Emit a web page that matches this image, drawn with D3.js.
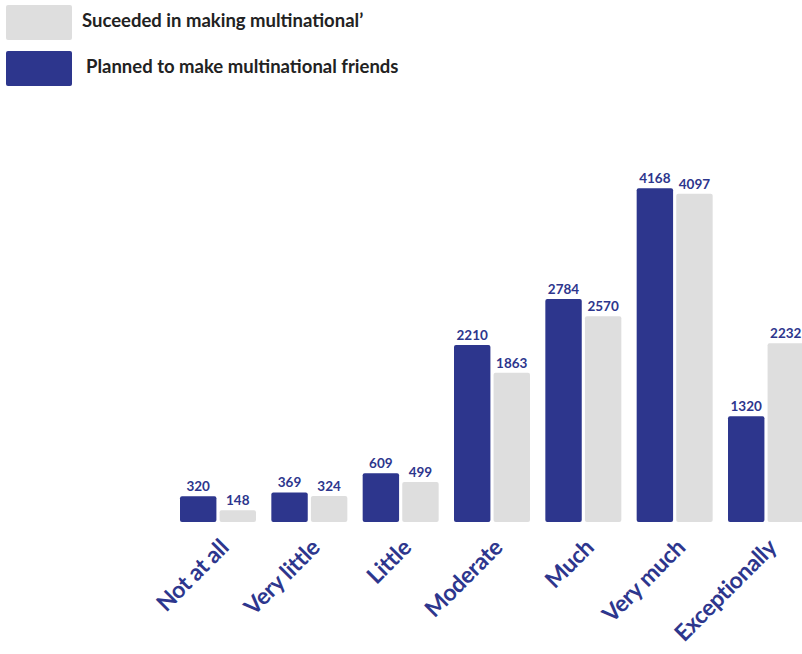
<!DOCTYPE html>
<html>
<head>
<meta charset="utf-8">
<script src="https://cdn.jsdelivr.net/npm/d3@7"></script>
<style>
  body { margin: 0; background: #fff; overflow: hidden; }
  text { font-family: Lato, "Open Sans", sans-serif; font-weight: 700; }
</style>
</head>
<body>
<svg id="chart" width="802" height="654"></svg>
<script>
// chart data
const categories = ["Not at all", "Very little", "Little", "Moderate", "Much", "Very much", "Exceptionally"];
const planned = [320, 369, 609, 2210, 2784, 4168, 1320];
const succeeded = [148, 324, 499, 1863, 2570, 4097, 2232];
const seriesKeys = ["planned", "succeeded"];
const seriesLabels = ["Planned to make multinational friends", "Suceeded in making multinational\u2019"];

const blue = "#2d368d";
const grey = "#dedede";

const svg = d3.select("#chart");

const x = d3.scaleBand()
    .domain(categories)
    .range([180, 804])
    .paddingInner(0.168)
    .paddingOuter(0);

const xSub = d3.scaleBand()
    .domain(seriesKeys)
    .range([0, x.bandwidth()])
    .paddingInner(0.08);

const y = d3.scaleLinear()
    .domain([0, 5000])
    .range([522, 121.5]);

const color = d3.scaleOrdinal().domain(seriesKeys).range([blue, grey]);

const rows = categories.map((c, i) => ({ cat: c, planned: planned[i], succeeded: succeeded[i] }));

const group = svg.append("g")
    .selectAll("g")
    .data(rows)
    .join("g")
    .attr("transform", d => "translate(" + x(d.cat) + ",0)");

const bars = group.selectAll("g")
    .data(d => seriesKeys.map(k => ({ key: k, value: d[k] })))
    .join("g");

bars.append("rect")
    .attr("x", d => xSub(d.key))
    .attr("y", d => y(d.value))
    .attr("width", xSub.bandwidth())
    .attr("height", d => y(0) - y(d.value))
    .attr("rx", 2)
    .attr("fill", d => color(d.key));

bars.append("text")
    .attr("x", d => xSub(d.key) + xSub.bandwidth() / 2)
    .attr("y", d => y(d.value) - 5)
    .attr("text-anchor", "middle")
    .attr("font-size", 13.5)
    .attr("fill", blue)
    .text(d => d.value);

// category labels, rotated
svg.append("g")
    .selectAll("text")
    .data(categories)
    .join("text")
    .attr("transform", d => "translate(" + (x(d) + x.bandwidth() / 2 + 12) + ",549) rotate(-45)")
    .attr("text-anchor", "end")
    .attr("font-size", 23)
    .attr("letter-spacing", -0.3)
    .attr("fill", blue)
    .text(d => d);

// legend
const legend = [
  { key: "succeeded", label: seriesLabels[1], y: 5, tx: 82 },
  { key: "planned", label: seriesLabels[0], y: 51, tx: 86 }
];
const lg = svg.append("g").selectAll("g").data(legend).join("g");
lg.append("rect")
    .attr("x", 6)
    .attr("y", d => d.y)
    .attr("width", 66)
    .attr("height", 35)
    .attr("rx", 2)
    .attr("fill", d => color(d.key));
lg.append("text")
    .attr("x", d => d.tx)
    .attr("y", d => d.y + 22)
    .attr("font-size", 18.5)
    .attr("fill", "#222")
    .text(d => d.label);
</script>
</body>
</html>
